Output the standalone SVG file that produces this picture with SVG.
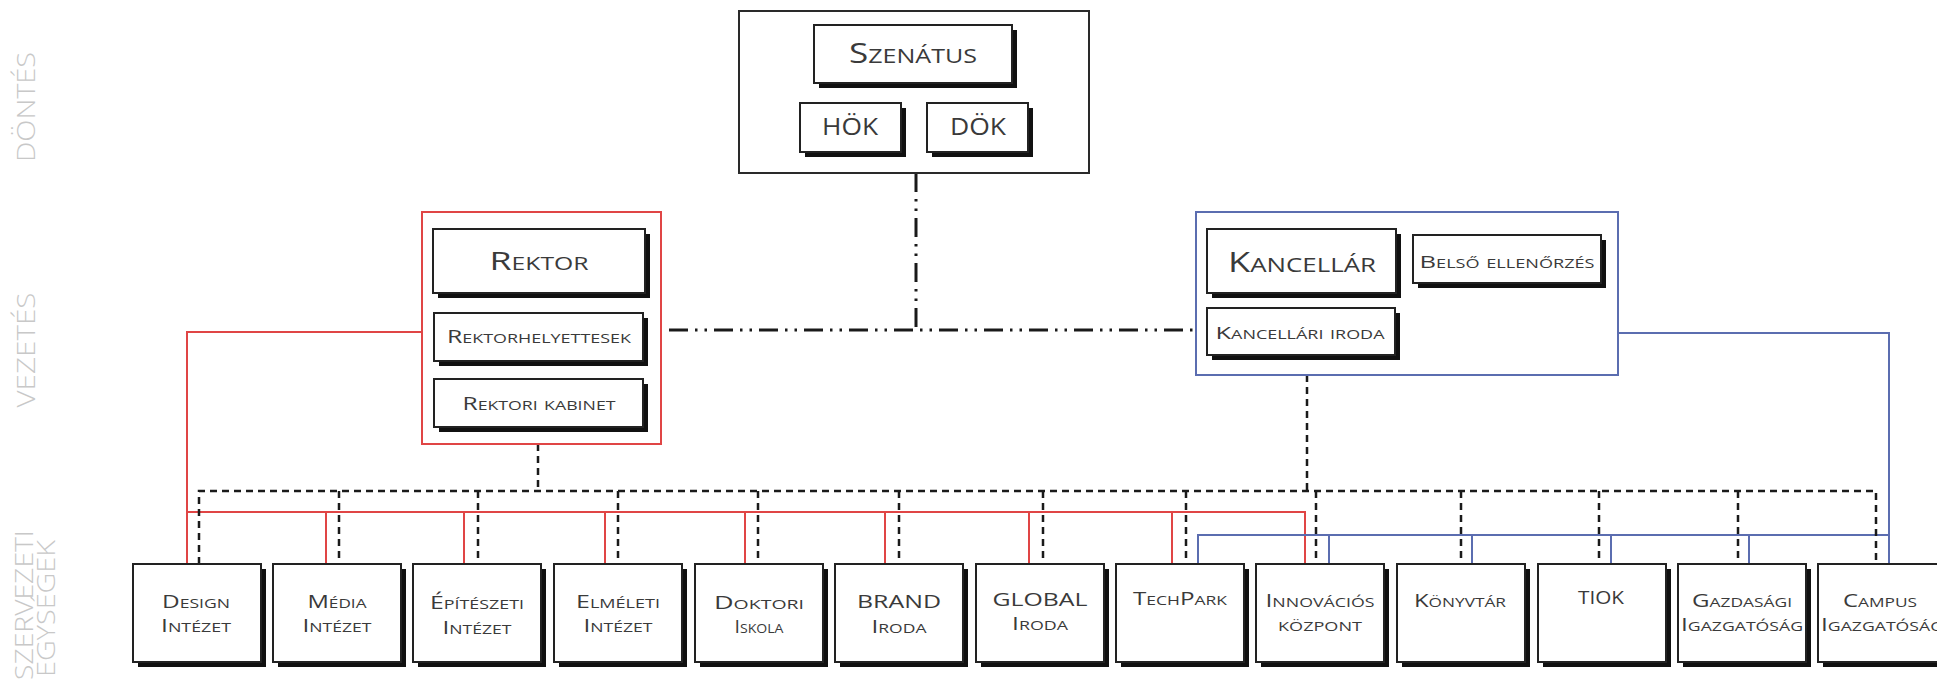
<svg xmlns="http://www.w3.org/2000/svg" width="1937" height="685" viewBox="0 0 1937 685">
<defs>
<style>
.bg{fill:#ffffff}
.cont{fill:none;stroke-width:2}
.blk{stroke:#2a2a2a}
.red{stroke:#e04545}
.blue{stroke:#5b6db0}
.sh{fill:#111111}
.bx{fill:#ffffff;stroke:#222222;stroke-width:2}
.t{font-family:"Open Sans","Noto Sans","Liberation Sans",sans-serif;font-variant:small-caps;fill:#3a3a3a;text-anchor:middle}
.side{font-family:"Open Sans","Noto Sans","Liberation Sans",sans-serif;font-weight:300;fill:#c8c8c8;font-size:26px}
.dd{fill:none;stroke:#1a1a1a;stroke-width:3;stroke-dasharray:19 7 2.5 7 2.5 7}
.ds{fill:none;stroke:#1a1a1a;stroke-width:2.5;stroke-dasharray:7 5}
.sr{fill:none;stroke:#e04545;stroke-width:2}
.sb{fill:none;stroke:#5b6db0;stroke-width:2}
</style>
</defs>
<rect class="bg" x="0" y="0" width="1937" height="685"/>

<g id="side-labels">
<text class="side" transform="translate(35,107) rotate(-90)" text-anchor="middle" textLength="110" lengthAdjust="spacingAndGlyphs">DÖNTÉS</text>
<text class="side" transform="translate(35,350) rotate(-90)" text-anchor="middle" textLength="115" lengthAdjust="spacingAndGlyphs">VEZETÉS</text>
<text class="side" transform="translate(33,530) rotate(-90)" text-anchor="end" textLength="150" lengthAdjust="spacingAndGlyphs">SZERVEZETI</text>
<text class="side" transform="translate(55,540) rotate(-90)" text-anchor="end" textLength="137" lengthAdjust="spacingAndGlyphs">EGYSÉGEK</text>
</g>

<g id="connectors">
<path class="dd" d="M916,173 V330"/>
<path class="dd" d="M669,330 H1196"/>
<path class="sr" d="M422,332 H187 V564"/>
<path class="sr" d="M187,512 H1305 V564 M326,512 V564 M464,512 V564 M605,512 V564 M745,512 V564 M885,512 V564 M1029,512 V564 M1172,512 V564"/>
<path class="sb" d="M1618,333 H1889 V564"/>
<path class="sb" d="M1889,535 H1198 V564 M1329,535 V564 M1472,535 V564 M1611,535 V564 M1749,535 V564"/>
<path class="ds" d="M538,444 V491"/>
<path class="ds" d="M1307,375 V491"/>
<path class="ds" d="M199,564 V491 H1876 V564"/>
<path class="ds" d="M339,491 V564 M478,491 V564 M618,491 V564 M758,491 V564 M899,491 V564 M1043,491 V564 M1186,491 V564 M1316,491 V564 M1461,491 V564 M1599,491 V564 M1738,491 V564"/>
</g>

<g id="dontes">
<rect class="cont blk" x="739" y="11" width="350" height="162"/>
<g id="szenatus"><rect class="sh" x="819" y="30" width="198" height="58"/><rect class="bx" x="814" y="25" width="198" height="58"/><text class="t" x="913" y="63" font-size="28" textLength="128" lengthAdjust="spacingAndGlyphs">Szenátus</text></g>
<g id="hok"><rect class="sh" x="805" y="108" width="101" height="49"/><rect class="bx" x="800" y="103" width="101" height="49"/><text class="t" x="850" y="135" font-size="24" textLength="56" lengthAdjust="spacingAndGlyphs">HÖK</text></g>
<g id="dok"><rect class="sh" x="932" y="108" width="101" height="49"/><rect class="bx" x="927" y="103" width="101" height="49"/><text class="t" x="978" y="135" font-size="24" textLength="56" lengthAdjust="spacingAndGlyphs">DÖK</text></g>
</g>

<g id="rektor-csoport">
<rect class="cont red" x="422" y="212" width="239" height="232"/>
<g id="rektor"><rect class="sh" x="438" y="234" width="212" height="64"/><rect class="bx" x="433" y="229" width="212" height="64"/><text class="t" x="539" y="270" font-size="26" textLength="99" lengthAdjust="spacingAndGlyphs">Rektor</text></g>
<g id="rektorhelyettesek"><rect class="sh" x="439" y="318" width="209" height="48"/><rect class="bx" x="434" y="313" width="209" height="48"/><text class="t" x="539" y="343" font-size="18" textLength="184" lengthAdjust="spacingAndGlyphs">Rektorhelyettesek</text></g>
<g id="rektori-kabinet"><rect class="sh" x="439" y="384" width="209" height="48"/><rect class="bx" x="434" y="379" width="209" height="48"/><text class="t" x="539" y="410" font-size="18" textLength="153" lengthAdjust="spacingAndGlyphs">Rektori kabinet</text></g>
</g>

<g id="kancellar-csoport">
<rect class="cont blue" x="1196" y="212" width="422" height="163"/>
<g id="kancellar"><rect class="sh" x="1212" y="234" width="189" height="64"/><rect class="bx" x="1207" y="229" width="189" height="64"/><text class="t" x="1302" y="272" font-size="28" textLength="148" lengthAdjust="spacingAndGlyphs">Kancellár</text></g>
<g id="belso-ellenorzes"><rect class="sh" x="1418" y="240" width="188" height="48"/><rect class="bx" x="1413" y="235" width="188" height="48"/><text class="t" x="1507" y="268" font-size="17" textLength="175" lengthAdjust="spacingAndGlyphs">Belső ellenőrzés</text></g>
<g id="kancellari-iroda"><rect class="sh" x="1212" y="313" width="188" height="47"/><rect class="bx" x="1207" y="308" width="188" height="47"/><text class="t" x="1300" y="339" font-size="17" textLength="169" lengthAdjust="spacingAndGlyphs">Kancellári iroda</text></g>
</g>

<g id="egysegek">
<g id="design"><rect class="sh" x="138" y="569" width="128" height="98"/><rect class="bx" x="133" y="564" width="128" height="98"/><text class="t" x="196" y="608" font-size="18" textLength="68" lengthAdjust="spacingAndGlyphs">Design</text><text class="t" x="196" y="632" font-size="18" textLength="70" lengthAdjust="spacingAndGlyphs">Intézet</text></g>
<g id="media"><rect class="sh" x="278" y="569" width="128" height="98"/><rect class="bx" x="273" y="564" width="128" height="98"/><text class="t" x="337" y="608" font-size="18" textLength="59" lengthAdjust="spacingAndGlyphs">Média</text><text class="t" x="337" y="632" font-size="18" textLength="69" lengthAdjust="spacingAndGlyphs">Intézet</text></g>
<g id="epiteszeti"><rect class="sh" x="418" y="569" width="128" height="98"/><rect class="bx" x="413" y="564" width="128" height="98"/><text class="t" x="477" y="609" font-size="18" textLength="94" lengthAdjust="spacingAndGlyphs">Építészeti</text><text class="t" x="477" y="634" font-size="18" textLength="69" lengthAdjust="spacingAndGlyphs">Intézet</text></g>
<g id="elmeleti"><rect class="sh" x="559" y="569" width="128" height="98"/><rect class="bx" x="554" y="564" width="128" height="98"/><text class="t" x="618" y="608" font-size="18" textLength="84" lengthAdjust="spacingAndGlyphs">Elméleti</text><text class="t" x="618" y="632" font-size="18" textLength="69" lengthAdjust="spacingAndGlyphs">Intézet</text></g>
<g id="doktori"><rect class="sh" x="700" y="569" width="128" height="98"/><rect class="bx" x="695" y="564" width="128" height="98"/><text class="t" x="759" y="609" font-size="18" textLength="90" lengthAdjust="spacingAndGlyphs">Doktori</text><text class="t" x="759" y="633" font-size="18" textLength="49" lengthAdjust="spacingAndGlyphs">Iskola</text></g>
<g id="brand"><rect class="sh" x="840" y="569" width="128" height="98"/><rect class="bx" x="835" y="564" width="128" height="98"/><text class="t" x="899" y="608" font-size="18" textLength="84" lengthAdjust="spacingAndGlyphs">BRAND</text><text class="t" x="899" y="633" font-size="18" textLength="55" lengthAdjust="spacingAndGlyphs">Iroda</text></g>
<g id="global"><rect class="sh" x="981" y="569" width="128" height="98"/><rect class="bx" x="976" y="564" width="128" height="98"/><text class="t" x="1040" y="606" font-size="18" textLength="95" lengthAdjust="spacingAndGlyphs">GLOBAL</text><text class="t" x="1040" y="630" font-size="18" textLength="56" lengthAdjust="spacingAndGlyphs">Iroda</text></g>
<g id="techpark"><rect class="sh" x="1121" y="569" width="128" height="98"/><rect class="bx" x="1116" y="564" width="128" height="98"/><text class="t" x="1180" y="605" font-size="18" textLength="94" lengthAdjust="spacingAndGlyphs">TechPark</text></g>
<g id="innovacios"><rect class="sh" x="1261" y="569" width="128" height="98"/><rect class="bx" x="1256" y="564" width="128" height="98"/><text class="t" x="1320" y="607" font-size="18" textLength="109" lengthAdjust="spacingAndGlyphs">Innovációs</text><text class="t" x="1320" y="631" font-size="18" textLength="84" lengthAdjust="spacingAndGlyphs">központ</text></g>
<g id="konyvtar"><rect class="sh" x="1402" y="569" width="128" height="98"/><rect class="bx" x="1397" y="564" width="128" height="98"/><text class="t" x="1460" y="607" font-size="18" textLength="92" lengthAdjust="spacingAndGlyphs">Könyvtár</text></g>
<g id="tiok"><rect class="sh" x="1543" y="569" width="128" height="98"/><rect class="bx" x="1538" y="564" width="128" height="98"/><text class="t" x="1601" y="604" font-size="18" textLength="46" lengthAdjust="spacingAndGlyphs">TIOK</text></g>
<g id="gazdasagi"><rect class="sh" x="1683" y="569" width="128" height="98"/><rect class="bx" x="1678" y="564" width="128" height="98"/><text class="t" x="1742" y="607" font-size="18" textLength="100" lengthAdjust="spacingAndGlyphs">Gazdasági</text><text class="t" x="1742" y="631" font-size="18" textLength="122" lengthAdjust="spacingAndGlyphs">Igazgatóság</text></g>
<g id="campus"><rect class="sh" x="1823" y="569" width="128" height="98"/><rect class="bx" x="1818" y="564" width="128" height="98"/><text class="t" x="1880" y="607" font-size="18" textLength="74" lengthAdjust="spacingAndGlyphs">Campus</text><text class="t" x="1882" y="631" font-size="18" textLength="122" lengthAdjust="spacingAndGlyphs">Igazgatóság</text></g>
</g>
</svg>
